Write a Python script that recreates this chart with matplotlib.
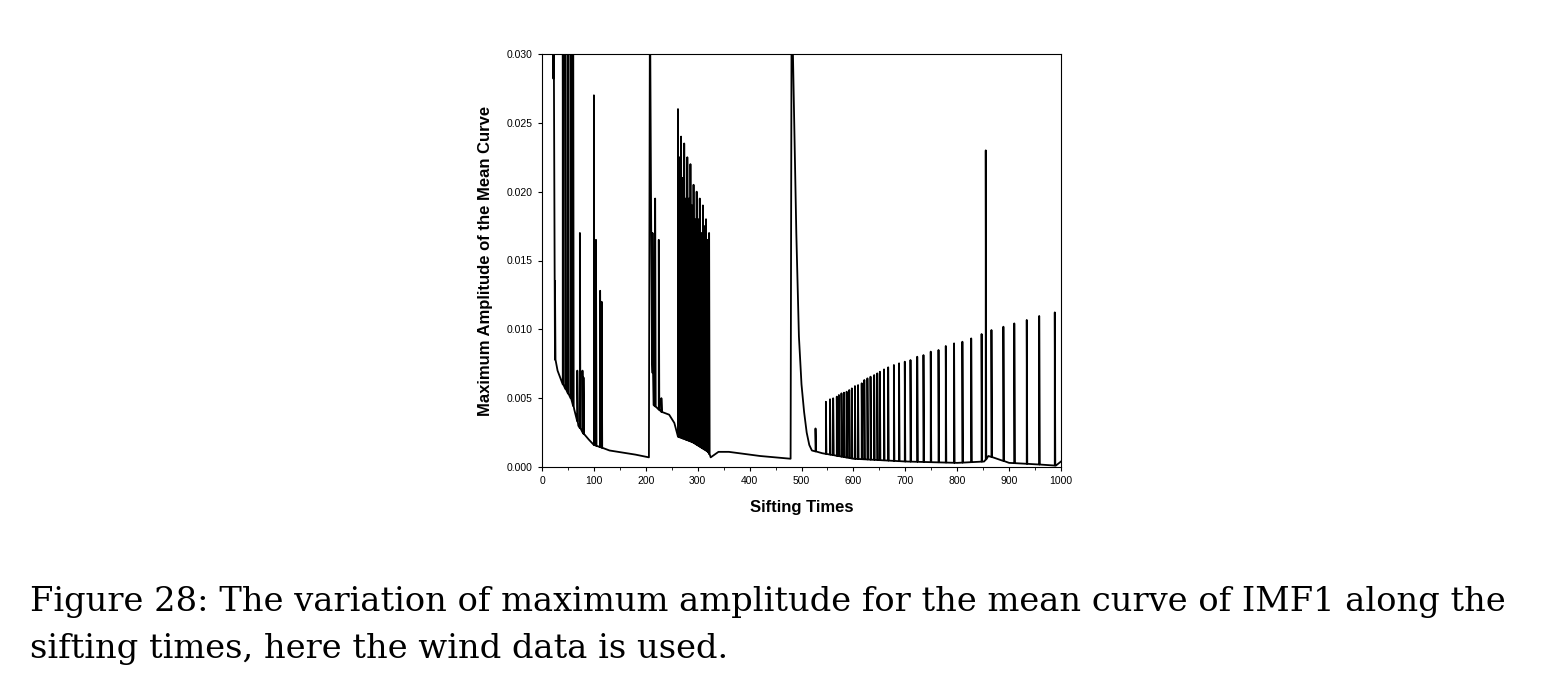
import numpy as np
import matplotlib
matplotlib.use("Agg")
import matplotlib.pyplot as plt

# baseline (slowly varying part)
base_x = [21, 25, 30, 40, 55, 62, 70, 80, 90, 100, 115, 130, 180, 206, 208, 210, 212, 215, 230, 245, 255, 262, 290, 320, 325,
          340, 360, 420, 479, 481, 485, 490, 495, 500, 505, 510, 515, 520, 540, 600, 700, 800, 852, 860, 900, 950, 990, 1000]
base_y = [0.035, 0.0078, 0.007, 0.006, 0.005, 0.0042, 0.003, 0.0024, 0.002, 0.0016, 0.0014, 0.0012, 0.0009, 0.0007,
          0.035, 0.02, 0.008, 0.0045, 0.004, 0.0038, 0.0032, 0.0022, 0.0018, 0.0011, 0.0007, 0.0011, 0.0011, 0.0008,
          0.0006, 0.035, 0.027, 0.017, 0.0095, 0.006, 0.004, 0.0025, 0.0016, 0.0012, 0.001, 0.0006, 0.0004, 0.0003,
          0.0004, 0.0008, 0.0003, 0.0002, 0.0001, 0.0004]

# spikes
spike_x = [22, 25, 40, 45, 50, 55, 60, 68, 73, 78, 80, 100, 104, 112, 115,
           213, 218, 225, 230,
           262, 265, 268, 271, 274, 277, 280, 283, 286, 289, 292, 295, 298, 301, 304, 307, 310, 313, 316, 319, 322,
           527,
           547, 555, 561, 568, 572, 577, 582, 587, 592, 597, 603, 609, 616, 621, 627, 633, 640, 646, 651, 659,
           667, 678, 688, 699, 710, 723, 735, 749, 764, 778, 794, 810, 827, 847, 855, 866, 889, 910, 934, 958, 988]
spike_peak = [0.035, 0.0135, 0.035, 0.035, 0.035, 0.035, 0.035, 0.007, 0.017, 0.007, 0.0065, 0.027, 0.0165, 0.0128, 0.012,
              0.017, 0.0195, 0.0165, 0.005,
              0.026, 0.0225, 0.024, 0.021, 0.0235, 0.0195, 0.0225, 0.0195, 0.022, 0.019, 0.0205, 0.018, 0.020, 0.018,
              0.0195, 0.017, 0.019, 0.0175, 0.018, 0.0165, 0.017,
              0.0028,
              0.00474, 0.00492, 0.00499, 0.00511, 0.00523, 0.00535, 0.0054, 0.00547, 0.00559, 0.00571, 0.00588,
              0.00595, 0.00608, 0.00632, 0.00644, 0.00656, 0.00668, 0.0068, 0.00692, 0.00709, 0.00724, 0.00741,
              0.00753, 0.00765, 0.00777, 0.00801, 0.00813, 0.00838, 0.0085, 0.00879, 0.00898, 0.0091, 0.00934,
              0.00966, 0.023, 0.00995, 0.01019, 0.01043, 0.01068, 0.01097, 0.01123]

xt = [0, 100, 200, 300, 400, 500, 600, 700, 800, 900, 1000]
yt = [0.000, 0.005, 0.010, 0.015, 0.020, 0.025, 0.030]

# assemble series: baseline nodes plus spikes
pts = list(zip(base_x, base_y))
for sx, sp in zip(spike_x, spike_peak):
    b = float(np.interp(sx, base_x, base_y))
    pts += [(sx - 0.01, b), (sx, sp), (sx + 1.0, b)]
pts.sort(key=lambda p: p[0])
X = [p[0] for p in pts]
Y = [p[1] for p in pts]

fig = plt.figure(figsize=(15.46, 6.81), dpi=100)
ax = fig.add_axes([542/1546, 1-467/681, 519/1546, 413/681])
ax.plot(X, Y, color="black", lw=1.3)
ax.set_xlim(0, 1000)
ax.set_ylim(0, 0.030)
ax.set_xticks(xt)
ax.set_xticks(np.arange(50, 1000, 100), minor=True)
ax.set_yticks(yt)
ax.set_yticklabels([f"{v:.3f}" for v in yt])
ax.tick_params(labelsize=7.5, length=3, width=0.8, direction="out")
ax.tick_params(which="minor", length=2)
for s in ax.spines.values():
    s.set_linewidth(0.8)
ax.set_xlabel("Sifting Times", fontsize=12, fontweight="bold", family="Liberation Sans", labelpad=10)
ax.set_ylabel("Maximum Amplitude of the Mean Curve", fontsize=12, fontweight="bold", family="Liberation Sans", labelpad=10)
for t in ax.get_xticklabels() + ax.get_yticklabels():
    t.set_family("Liberation Sans")

fig.text(30/1546, 1-602/681, "Figure 28: The variation of maximum amplitude for the mean curve of IMF1 along the",
         fontsize=24.3, family="DejaVu Serif", va="center", ha="left")
fig.text(30/1546, 1-649/681, "sifting times, here the wind data is used.",
         fontsize=24.3, family="DejaVu Serif", va="center", ha="left")
fig.savefig("out.png", dpi=100)
